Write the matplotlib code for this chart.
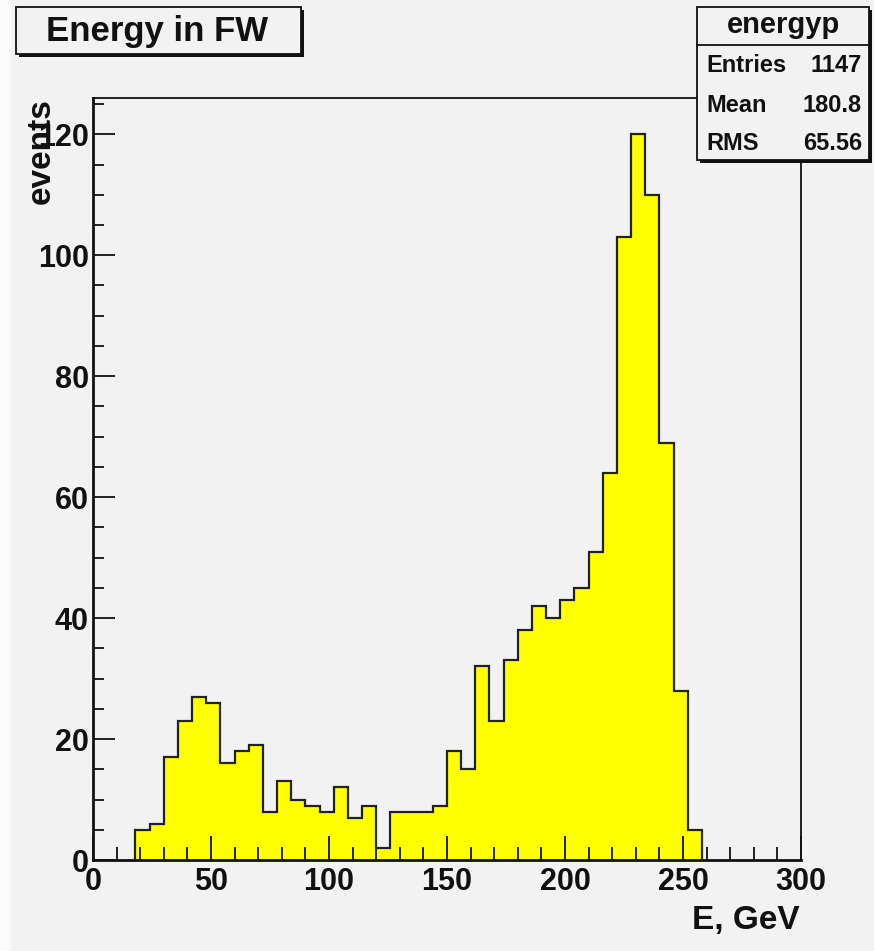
import numpy as np
import matplotlib
matplotlib.use("Agg")
import matplotlib.pyplot as plt
from matplotlib.patches import Rectangle
from matplotlib.lines import Line2D
from matplotlib.ticker import MultipleLocator

# ---- data ----
bin_start = 18.0
bin_width = 6.0
counts = [5, 6, 17, 23, 27, 26, 16, 18, 19, 8,
          13, 10, 9, 8, 12, 7, 9, 2, 8, 8,
          8, 9, 18, 15, 32, 23, 33, 38, 42, 40,
          43, 45, 51, 64, 103, 120, 110, 69, 28, 5]
x_ticks = [0, 50, 100, 150, 200, 250, 300]
y_ticks = [0, 20, 40, 60, 80, 100, 120]
title = "Energy in FW"
x_label = "E, GeV"
y_label = "events"
stats_name = "energyp"
stats_rows = [("Entries", "1147"), ("Mean", "180.8"), ("RMS", "65.56")]

edges = bin_start + bin_width * np.arange(len(counts) + 1)

plt.rcParams['font.family'] = ['Liberation Sans', 'DejaVu Sans']
plt.rcParams['font.weight'] = 'bold'

W, H = 874, 951
BG = '#f2f2f2'
fig = plt.figure(figsize=(W / 100, H / 100), dpi=100, facecolor=BG)

def fx(px):
    return px / W

def fy(py):
    return 1 - py / H

# light strip at left edge
fig.patches.append(Rectangle((0, 0), fx(11), 1, transform=fig.transFigure,
                             facecolor='#fbfbfb', edgecolor='none', zorder=0))

L, R, T, B = 93, 801, 98, 860
ax = fig.add_axes([fx(L), fy(B), fx(R - L), (B - T) / H])
ax.set_facecolor(BG)

ax.stairs(counts, edges, fill=True, facecolor='#ffff00', edgecolor='none', zorder=2)
ax.stairs(counts, edges, fill=False, color='#222222', linewidth=1.6, zorder=3)

ax.set_xlim(0, 300)
ax.set_ylim(0, 126)
ax.set_xticks(x_ticks)
ax.set_yticks(y_ticks)
ax.xaxis.set_minor_locator(MultipleLocator(10))
ax.yaxis.set_minor_locator(MultipleLocator(5))
ax.tick_params(axis='x', which='major', direction='in', length=17, width=1.3,
               labelsize=22, pad=5, top=False, colors='#111111')
ax.tick_params(axis='x', which='minor', direction='in', length=9.5, width=1.3, top=False,
               colors='#111111')
ax.tick_params(axis='y', which='major', direction='in', length=16, width=1.3,
               labelsize=22, pad=3, right=False, colors='#111111')
ax.tick_params(axis='y', which='minor', direction='in', length=8, width=1.3, right=False,
               colors='#111111')
for lab in ax.get_xticklabels() + ax.get_yticklabels():
    lab.set_fontweight('bold')
for ln in ax.xaxis.get_ticklines(minor=False) + ax.xaxis.get_ticklines(minor=True) + \
          ax.yaxis.get_ticklines(minor=False) + ax.yaxis.get_ticklines(minor=True):
    ln.set_zorder(4)
ax.set_axisbelow(False)

for s in ['left', 'bottom']:
    ax.spines[s].set_linewidth(2.0)
    ax.spines[s].set_color('#111111')
for s in ['top', 'right']:
    ax.spines[s].set_linewidth(1.3)
    ax.spines[s].set_color('#111111')

# axis titles
fig.text(fx(800), fy(921), x_label, ha='right', va='center', fontsize=24,
         fontweight='bold', color='#111111')
fig.text(fx(41), fy(98), y_label, rotation=90, ha='center', va='top', fontsize=24,
         fontweight='bold', color='#111111')

def box(x0, y0, x1, y1, shadow=3):
    fig.patches.append(Rectangle((fx(x0 + shadow), fy(y1 + shadow)), fx(x1 - x0), (y1 - y0) / H,
                                 transform=fig.transFigure, facecolor='#111111',
                                 edgecolor='none', zorder=5))
    fig.patches.append(Rectangle((fx(x0), fy(y1)), fx(x1 - x0), (y1 - y0) / H,
                                 transform=fig.transFigure, facecolor=BG,
                                 edgecolor='#111111', linewidth=1.3, zorder=6))

# title box
box(16, 7, 301, 54)
fig.text(fx(157), fy(31), title, ha='center', va='center', fontsize=25,
         fontweight='bold', color='#111111', zorder=7)

# stats box
box(697, 7, 869, 160)
fig.lines.append(Line2D([fx(697), fx(869)], [fy(45), fy(45)], transform=fig.transFigure,
                        color='#111111', linewidth=1.3, zorder=7))
fig.text(fx(783), fy(25), stats_name, ha='center', va='center', fontsize=21,
         fontweight='bold', color='#111111', zorder=7)
row_y = [66, 105, 144]
for (k, v), yy in zip(stats_rows, row_y):
    fig.text(fx(706), fy(yy), k, ha='left', va='center', fontsize=17,
             fontweight='bold', color='#111111', zorder=7)
    fig.text(fx(862), fy(yy), v, ha='right', va='center', fontsize=17,
             fontweight='bold', color='#111111', zorder=7)

fig.savefig('out.png', dpi=100, facecolor=BG)
